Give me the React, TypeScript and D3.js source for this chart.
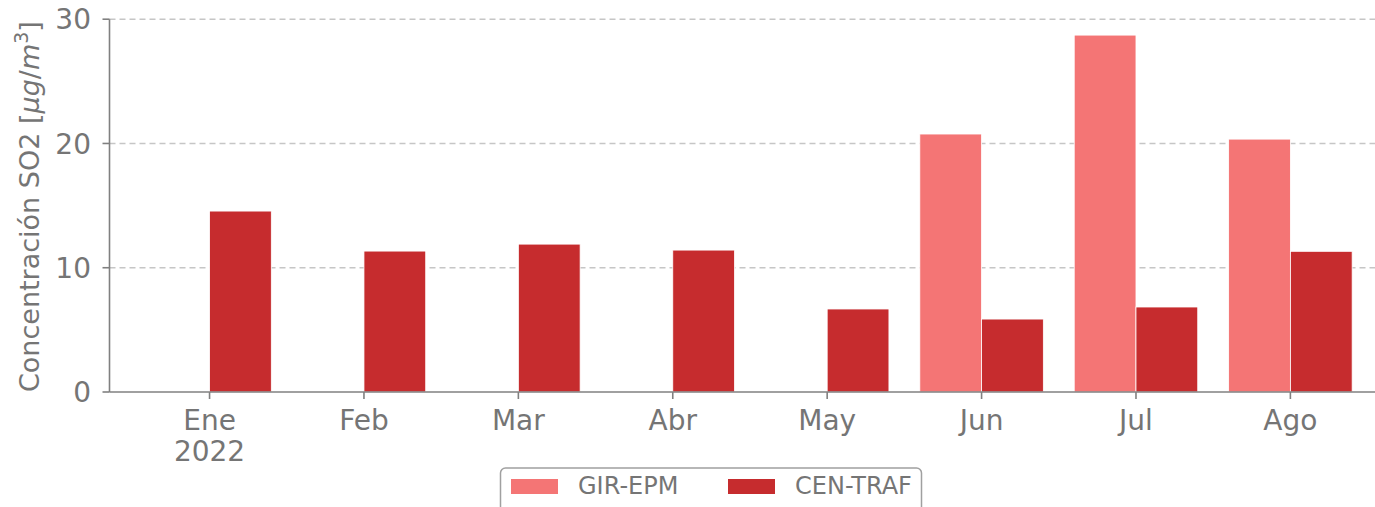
import React from "react";
import * as d3 from "d3";

const months = ["Ene", "Feb", "Mar", "Abr", "May", "Jun", "Jul", "Ago"];
const girEpm = [0, 0, 0, 0, 0, 20.76, 28.72, 20.35];
const cenTraf = [14.56, 11.34, 11.9, 11.42, 6.68, 5.87, 6.84, 11.32];
const yTicks = [0, 10, 20, 30];
const seriesNames = ["GIR-EPM", "CEN-TRAF"];
const seriesColors = ["#f47575", "#c62c2e"];

const W = 1375;
const H = 507;
const FONT = "DejaVu Sans, sans-serif";
const TXT = "#757575";
const AX = "#808080";

export default function App() {
  const x = d3.scaleLinear().domain([-0.648, 7.548]).range([109.5, 1375]);
  const y = d3.scaleLinear().domain([0, 30]).range([392, 19.2]);
  const bw = 0.4;
  const series = [girEpm, cenTraf];

  return (
    <svg width={W} height={H} style={{ position: "absolute", left: 0, top: 0, background: "#fff" }}>
      {/* grid */}
      {yTicks.filter((t) => t > 0).map((t) => (
        <line key={"g" + t} x1={x.range()[0]} x2={W} y1={y(t)} y2={y(t)}
          stroke="#c6c6c6" strokeWidth={1.6} strokeDasharray="6,4" />
      ))}
      {/* bars */}
      {series.map((vals, si) =>
        vals.map((v, i) => {
          const x0 = x(i - bw + si * bw);
          const x1 = x(i + si * bw);
          return (
            <rect key={si + "-" + i} x={x0} y={y(v)} width={x1 - x0} height={y(0) - y(v)}
              fill={seriesColors[si]} stroke="#fff" strokeWidth={0.8} />
          );
        })
      )}
      {/* axes */}
      <line x1={x.range()[0]} x2={x.range()[0]} y1={y(30)} y2={y(0)} stroke={AX} strokeWidth={1.6} />
      <line x1={x.range()[0]} x2={W} y1={y(0)} y2={y(0)} stroke={AX} strokeWidth={1.6} />
      {yTicks.map((t) => (
        <g key={"yt" + t}>
          <line x1={x.range()[0] - 7} x2={x.range()[0]} y1={y(t)} y2={y(t)} stroke={AX} strokeWidth={1.6} />
          <text x={91} y={y(t)} dy="0.36em" textAnchor="end" fontFamily={FONT} fontSize={28} fill={TXT}>{t}</text>
        </g>
      ))}
      {months.map((m, i) => (
        <g key={"xt" + m}>
          <line x1={x(i)} x2={x(i)} y1={y(0)} y2={y(0) + 7} stroke={AX} strokeWidth={1.6} />
          <text x={x(i)} y={430} textAnchor="middle" fontFamily={FONT} fontSize={28} fill={TXT}>{m}</text>
          {i === 0 && (
            <text x={x(i)} y={461} textAnchor="middle" fontFamily={FONT} fontSize={28} fill={TXT}>2022</text>
          )}
        </g>
      ))}
      {/* y label */}
      <text transform={`translate(39,${(y(0) + y(30)) / 2 + 1}) rotate(-90)`} textAnchor="middle"
        fontFamily={FONT} fontSize={27} fill={TXT}>
        Concentración SO2 [<tspan fontStyle="italic">μg</tspan>/<tspan fontStyle="italic">m</tspan>
        <tspan fontSize={19} dy="-11">3</tspan><tspan dy="11">]</tspan>
      </text>
      {/* legend */}
      <rect x={500.5} y={468} width={421} height={50} rx={5} fill="#fff" stroke="#a0a0a0" strokeWidth={1.5} />
      {seriesNames.map((n, i) => {
        const lx = i === 0 ? 511 : 728;
        return (
          <g key={"lg" + n}>
            <rect x={lx} y={479} width={47} height={15} fill={seriesColors[i]} />
            <text x={lx + 67} y={494} fontFamily={FONT} fontSize={24} fill={TXT}>{n}</text>
          </g>
        );
      })}
    </svg>
  );
}
